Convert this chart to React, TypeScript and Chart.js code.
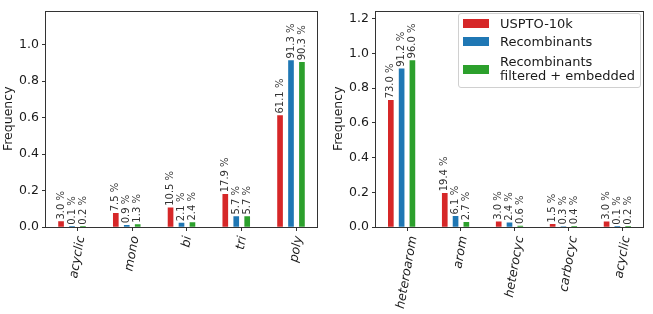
import React, { useEffect, useRef } from 'react';
import { Chart, registerables } from 'chart.js';

Chart.register(...registerables);

// Series shared by both panels
const SERIES_NAMES = ['USPTO-10k', 'Recombinants', 'Recombinants filtered + embedded'];
const LEGEND_LINES = [['USPTO-10k'], ['Recombinants'], ['Recombinants', 'filtered + embedded']];
const SERIES_COLORS = ['#d62728', '#1f77b4', '#2ca02c'];

// Left panel: ring systems (values in %)
const RING_CATEGORIES = ['acyclic', 'mono', 'bi', 'tri', 'poly'];
const RING_USPTO = [3.0, 7.5, 10.5, 17.9, 61.1];
const RING_RECOMB = [0.1, 0.9, 2.1, 5.7, 91.3];
const RING_FILTERED = [0.2, 1.3, 2.4, 5.7, 90.3];
const RING_Y_TICKS = [0, 0.2, 0.4, 0.6, 0.8, 1.0];

// Right panel: ring types (values in %)
const AROM_CATEGORIES = ['heteroarom', 'arom', 'heterocyc', 'carbocyc', 'acyclic'];
const AROM_USPTO = [73.0, 19.4, 3.0, 1.5, 3.0];
const AROM_RECOMB = [91.2, 6.1, 2.4, 0.3, 0.1];
const AROM_FILTERED = [96.0, 2.7, 0.6, 0.4, 0.2];
const AROM_Y_TICKS = [0, 0.2, 0.4, 0.6, 0.8, 1.0, 1.2];

// Bar centre offsets from the category tick (x-axis units) and axis range
const BAR_OFFSETS = [-0.3, -0.1, 0.1];
const X_MIN = -0.575;
const X_MAX = 4.375;
const HEADROOM = 1.3;

const FONT = '"DejaVu Sans", "Liberation Sans", sans-serif';
const INK = '#1a1a1a';

// Rotated value labels above each bar
const valueLabels = {
  id: 'valueLabels',
  afterDatasetsDraw(chart: any) {
    const ctx = chart.ctx;
    ctx.save();
    ctx.font = `10px ${FONT}`;
    ctx.fillStyle = '#333';
    ctx.textAlign = 'left';
    ctx.textBaseline = 'middle';
    chart.data.datasets.forEach((ds: any, k: number) => {
      const meta = chart.getDatasetMeta(k);
      meta.data.forEach((bar: any, i: number) => {
        const pct = ds.pct[i];
        ctx.save();
        ctx.translate(bar.x, bar.y - 2);
        ctx.rotate(-Math.PI / 2);
        ctx.fillText(`${pct.toFixed(1)} %`, 0, 0);
        ctx.restore();
      });
    });
    ctx.restore();
  },
};

// Slanted, centred category labels under the x axis
const slantedTicks = {
  id: 'slantedTicks',
  afterDraw(chart: any, _args: any, opts: any) {
    const labels: string[] = opts.labels || [];
    const scale = chart.scales.x;
    const ctx = chart.ctx;
    const size = 12.5;
    const ang = (80 * Math.PI) / 180;
    ctx.save();
    ctx.font = `italic ${size}px ${FONT}`;
    ctx.fillStyle = INK;
    ctx.textAlign = 'center';
    ctx.textBaseline = 'middle';
    labels.forEach((text, i) => {
      const w = ctx.measureText(text).width;
      const h = size * 1.16;
      const boxH = w * Math.sin(ang) + h * Math.cos(ang);
      const cx = scale.getPixelForValue(i);
      const cy = scale.top + 8 + boxH / 2;
      ctx.save();
      ctx.translate(cx, cy);
      ctx.rotate(-ang);
      ctx.fillText(text, 0, 0);
      ctx.restore();
    });
    ctx.restore();
  },
};

// Axes frame on all four sides
const frame = {
  id: 'frame',
  afterDraw(chart: any) {
    const { left, right, top, bottom } = chart.chartArea;
    const ctx = chart.ctx;
    ctx.save();
    ctx.strokeStyle = '#333';
    ctx.lineWidth = 1;
    ctx.strokeRect(Math.round(left) - 0.5, Math.round(top) + 0.5, Math.round(right) - Math.round(left) + 1, Math.round(bottom) - Math.round(top));
    ctx.restore();
  },
};

type PanelProps = {
  categories: string[];
  series: number[][];
  yTicks: number[];
  width: number;
  height: number;
  padRight: number;
  left: number;
};

function Panel({ categories, series, yTicks, width, height, padRight, left }: PanelProps) {
  const ref = useRef<HTMLCanvasElement | null>(null);

  useEffect(() => {
    if (!ref.current) return;
    const peak = Math.max(...series.flat()) / 100;
    const chart = new Chart(ref.current, {
      type: 'bar',
      data: {
        datasets: series.map((vals, k) => ({
          label: SERIES_NAMES[k],
          pct: vals,
          data: vals.map((p, i) => ({ x: i + BAR_OFFSETS[k], y: p / 100 })),
          backgroundColor: SERIES_COLORS[k],
          borderWidth: 0,
          barThickness: 5,
          grouped: false,
        })) as any,
      },
      options: {
        animation: false,
        responsive: false,
        maintainAspectRatio: false,
        devicePixelRatio: 1,
        layout: { padding: { top: 3, right: padRight, left: 0, bottom: 0 } },
        plugins: {
          legend: { display: false },
          tooltip: { enabled: false },
          slantedTicks: { labels: categories },
        } as any,
        scales: {
          x: {
            type: 'linear',
            min: X_MIN,
            max: X_MAX,
            offset: false,
            afterBuildTicks: (s: any) => {
              s.ticks = categories.map((_, i) => ({ value: i }));
            },
            afterFit: (s: any) => {
              s.height = 87;
            },
            ticks: { display: false },
            grid: {
              offset: false,
              drawOnChartArea: false,
              drawTicks: true,
              tickLength: 4,
              color: '#333',
            },
            border: { display: false },
          },
          y: {
            type: 'linear',
            min: 0,
            max: peak * HEADROOM,
            afterBuildTicks: (s: any) => {
              s.ticks = yTicks.map((v) => ({ value: v }));
            },
            afterFit: (s: any) => {
              s.width = 46;
            },
            ticks: {
              font: { family: FONT, size: 12.5 },
              color: INK,
              padding: 3,
              callback: (v: any) => Number(v).toFixed(1),
            },
            grid: {
              drawOnChartArea: false,
              drawTicks: true,
              tickLength: 4,
              color: '#333',
            },
            border: { display: false },
            title: {
              display: true,
              text: 'Frequency',
              font: { family: FONT, size: 12.5 },
              color: INK,
              padding: { top: 1, bottom: 0 },
            },
          },
        } as any,
      },
      plugins: [valueLabels, slantedTicks, frame],
    });
    return () => chart.destroy();
  }, []);

  return (
    <canvas
      ref={ref}
      width={width}
      height={height}
      style={{ position: 'absolute', left, top: 0, width, height }}
    />
  );
}

function Legend() {
  const rowCenters = [10.5, 28.8, 56];
  return (
    <div
      style={{
        position: 'absolute',
        left: 458,
        top: 13,
        width: 183,
        height: 75,
        boxSizing: 'border-box',
        border: '1px solid #d0d0d0',
        borderRadius: 3,
        background: 'rgba(255,255,255,0.85)',
        fontFamily: FONT,
        fontSize: 13,
        color: INK,
      }}
    >
      {LEGEND_LINES.map((lines, k) => (
        <React.Fragment key={k}>
          <div
            style={{
              position: 'absolute',
              left: 4,
              top: rowCenters[k] - 4.5 - 1,
              width: 26,
              height: 9,
              background: SERIES_COLORS[k],
            }}
          />
          <div
            style={{
              position: 'absolute',
              left: 41,
              top: rowCenters[k] - (lines.length * 14) / 2 - 1,
              lineHeight: '14px',
              whiteSpace: 'nowrap',
            }}
          >
            {lines.map((t, j) => (
              <div key={j}>{t}</div>
            ))}
          </div>
        </React.Fragment>
      ))}
    </div>
  );
}

export default function App() {
  return (
    <div style={{ position: 'absolute', left: 0, top: 0, width: 653, height: 314, background: '#fff', overflow: 'hidden' }}>
      <Panel
        categories={RING_CATEGORIES}
        series={[RING_USPTO, RING_RECOMB, RING_FILTERED]}
        yTicks={RING_Y_TICKS}
        width={330}
        height={314}
        padRight={13}
        left={0}
      />
      <Panel
        categories={AROM_CATEGORIES}
        series={[AROM_USPTO, AROM_RECOMB, AROM_FILTERED]}
        yTicks={AROM_Y_TICKS}
        width={323}
        height={314}
        padRight={10}
        left={330}
      />
      <Legend />
    </div>
  );
}
